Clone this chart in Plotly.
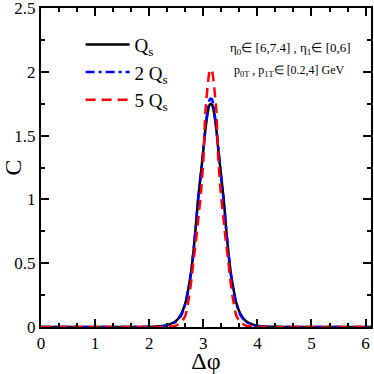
import plotly.graph_objs as go

# delta phi grid (shared by all curves)
dphi = [0.0, 0.5, 1.0, 1.5, 2.0, 2.14, 2.33, 2.49, 2.59, 2.67, 2.74, 2.78, 2.82,
        2.86, 2.90, 2.95, 3.00, 3.04, 3.09, 3.115, 3.14, 3.165, 3.19, 3.24, 3.28,
        3.33, 3.38, 3.42, 3.46, 3.50, 3.54, 3.61, 3.69, 3.79, 3.95, 4.14, 4.34,
        4.5, 5.0, 5.5, 6.0, 6.1]

c_qs = [0.0, 0.0, 0.0, 0.0, 0.001, 0.004, 0.015, 0.045, 0.10, 0.19, 0.34, 0.45,
        0.60, 0.78, 0.99, 1.18, 1.38, 1.55, 1.70, 1.74, 1.75, 1.74, 1.70, 1.55,
        1.38, 1.18, 0.99, 0.78, 0.60, 0.45, 0.34, 0.19, 0.10, 0.045, 0.015,
        0.004, 0.001, 0.0, 0.0, 0.0, 0.0, 0.0]

c_2qs = [0.0, 0.0, 0.0, 0.0, 0.001, 0.003, 0.012, 0.04, 0.09, 0.18, 0.33, 0.44,
         0.60, 0.78, 0.98, 1.18, 1.39, 1.57, 1.73, 1.78, 1.79, 1.78, 1.73, 1.57,
         1.39, 1.18, 0.98, 0.78, 0.60, 0.44, 0.33, 0.18, 0.09, 0.04, 0.012,
         0.003, 0.001, 0.0, 0.0, 0.0, 0.0, 0.0]

c_5qs = [0.0, 0.0, 0.0, 0.0, 0.0, 0.0, 0.001, 0.01, 0.035, 0.09, 0.24, 0.37,
         0.52, 0.66, 0.82, 1.02, 1.30, 1.70, 1.93, 2.00, 2.02, 2.00, 1.93, 1.70,
         1.30, 1.02, 0.82, 0.66, 0.52, 0.37, 0.24, 0.09, 0.035, 0.01, 0.001,
         0.0, 0.0, 0.0, 0.0, 0.0, 0.0, 0.0]

series = [
    ("Q<sub>s</sub>", c_qs, "black", "solid"),
    ("2 Q<sub>s</sub>", c_2qs, "blue", "9px,4px,3px,4px"),
    ("5 Q<sub>s</sub>", c_5qs, "red", "10px,6px"),
]

fig = go.Figure()
for name, vals, col, dash in series:
    fig.add_trace(go.Scatter(x=dphi, y=vals, mode="lines", name=name,
                             line=dict(color=col, width=2.5, dash=dash,
                                       shape="spline", smoothing=0.5)))

axis_style = dict(showline=True, linecolor="black", linewidth=2, mirror="allticks",
                  ticks="inside", ticklen=8, tickwidth=2, tickcolor="black",
                  showgrid=False, zeroline=False, automargin=False,
                  ticklabeloverflow="allow",
                  tickfont=dict(size=17, color="black"))

fig.update_xaxes(range=[0, 6.1], dtick=1, title_text="Δφ", title_standoff=0,
                 minor=dict(dtick=1/3, ticks="inside", ticklen=4, tickwidth=2,
                            tickcolor="black"),
                 **axis_style)
fig.update_yaxes(range=[0, 2.5], dtick=0.5, title_text="C", title_standoff=2,
                 minor=dict(dtick=0.25, ticks="inside", ticklen=4, tickwidth=2,
                            tickcolor="black"),
                 **axis_style)

fig.add_annotation(text="η<sub>0</sub>∈ [6,7.4] , η<sub>1</sub>∈ [0,6]",
                   xref="paper", yref="paper", x=0.945, y=0.905, xanchor="right",
                   showarrow=False, font=dict(size=13, color="black"))
fig.add_annotation(text="p<sub>0T</sub> , p<sub>1T</sub>∈ [0.2,4] GeV",
                   xref="paper", yref="paper", x=0.926, y=0.835, xanchor="right",
                   showarrow=False, font=dict(size=12, color="black"))

fig.update_layout(
    width=374, height=374,
    font=dict(family="Liberation Serif", size=20, color="black"),
    margin=dict(l=41, r=3, t=8, b=47),
    paper_bgcolor="white",
    plot_bgcolor="white",
    legend=dict(x=0.12, y=0.945, xanchor="left", yanchor="top",
                bgcolor="rgba(0,0,0,0)", font=dict(size=19),
                tracegroupgap=0, itemwidth=44),
    showlegend=True,
)

fig.write_html("out.html", config={"displayModeBar": False},
               post_script="document.body.style.margin='0';")
